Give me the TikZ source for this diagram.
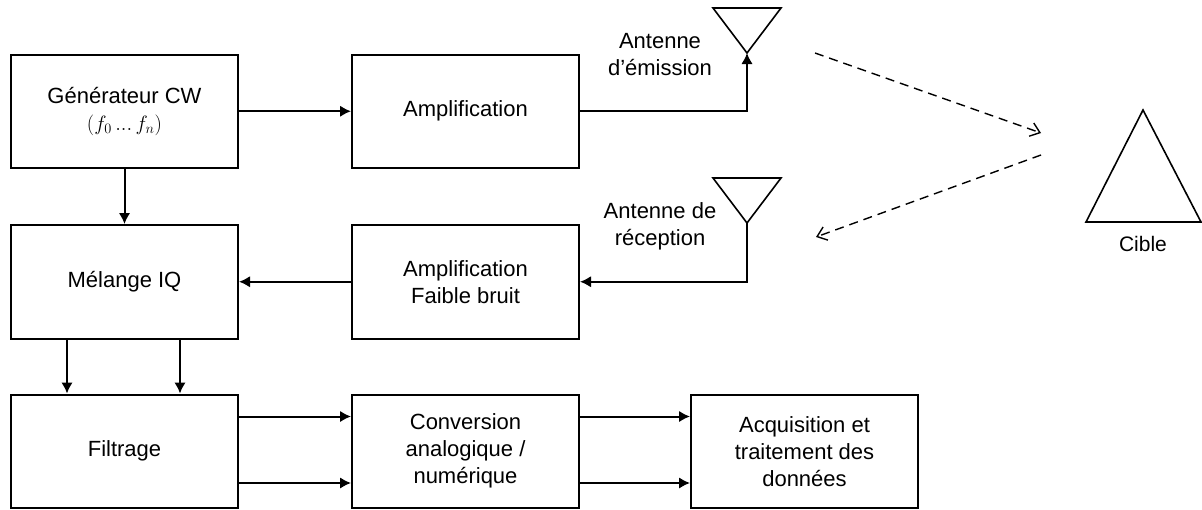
\documentclass[tikz,border=0pt]{standalone}
\usepackage{fontspec}
\usepackage{amsmath}
\setmainfont{Liberation Sans}
\usetikzlibrary{arrows.meta,calc}
\newcommand{\lbl}{\fontsize{22}{27}\selectfont}
\tikzset{
  blockbox/.style={draw=black,line width=2pt,minimum width=227pt,minimum height=113.5pt,inner sep=0pt,align=center,font=\lbl,anchor=north west},
  flow/.style={draw=black,line width=2pt,-{Latex[length=11pt,width=11.5pt]}},
  wave/.style={draw=black,line width=1.4pt,dash pattern=on 9pt off 6pt,-{Straight Barb[length=9pt,width=14pt,line width=1.4pt]}},
  tri/.style={draw=black,line width=1.6pt,line join=miter},
  lab/.style={align=center,font=\lbl,inner sep=0pt}
}
\begin{document}
\begin{tikzpicture}[x=1pt,y=-1pt]
\useasboundingbox (0,0) rectangle (1202,509);
\fill[white] (0,0) rectangle (1202,509);
\node[blockbox] (gen) at (10,53.5) {\raisebox{-1.5pt}{Générateur CW}\\[0pt]\raisebox{-1.5pt}{$(f_0\,...\,f_n)$}};
\node[blockbox] (amp) at (351,53.5) {\raisebox{-1.5pt}{Amplification}};
\node[blockbox] (mix) at (10,224) {Mélange IQ};
\node[blockbox] (lna) at (351,224) {Amplification\\Faible bruit};
\node[blockbox] (fil) at (10,393.5) {Filtrage};
\node[blockbox] (adc) at (351,393.5) {Conversion\\analogique /\\numérique};
\node[blockbox] (acq) at (690,393.5) {Acquisition et\\traitement des\\données};
\coordinate (txa) at (747,53);
\coordinate (rxa) at (747,223);
\coordinate (cw) at (1041,133);
\coordinate (ce) at (1041,155);
\coordinate (ws) at (815,53);
\coordinate (we) at (816,237);
\draw[tri] (713,8) -- (781,8) -- (txa) -- cycle;
\draw[tri] (713,178) -- (781,178) -- (rxa) -- cycle;
\draw[tri] (1143,110) -- (1201,222) -- (1086,222) -- cycle;
\node[lab] (ltx) at (660,54.5) {Antenne\\d’émission};
\node[lab] (lrx) at (660,226.5) {Antenne de\\réception};
\node[lab] (lcib) at (1143,244) {\fontsize{21}{25}\selectfont Cible};
\draw[flow] (gen.east) -- (amp.west);
\draw[flow] (amp.east) -| (txa);
\draw[flow] (rxa) |- (lna.east);
\draw[flow] (lna.west) -- (mix.east);
\draw[flow] (gen.south) -- (mix.north);
\draw[flow] ($(mix.south west)+(57,0)$) -- ($(fil.north west)+(57,0)$);
\draw[flow] ($(mix.south west)+(170,0)$) -- ($(fil.north west)+(170,0)$);
\draw[flow] ($(fil.north east)+(0,23)$) -- ($(adc.north west)+(0,23)$);
\draw[flow] ($(fil.north east)+(0,89.5)$) -- ($(adc.north west)+(0,89.5)$);
\draw[flow] ($(adc.north east)+(0,23)$) -- ($(acq.north west)+(0,23)$);
\draw[flow] ($(adc.north east)+(0,89.5)$) -- ($(acq.north west)+(0,89.5)$);
\draw[wave] (ws) -- (cw);
\draw[wave] (ce) -- (we);
\end{tikzpicture}
\end{document}
